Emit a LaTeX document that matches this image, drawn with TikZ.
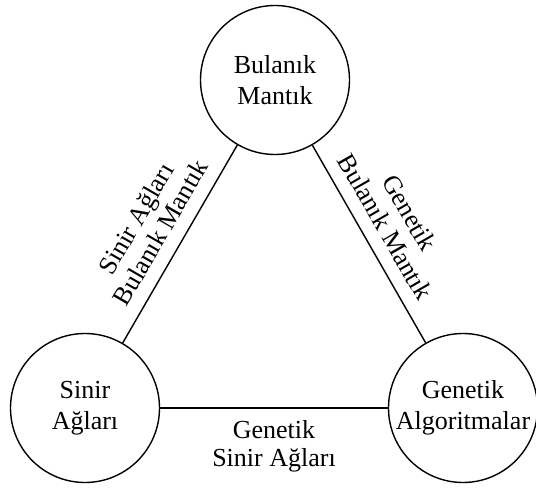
\documentclass[tikz,border=0pt]{standalone}
\usepackage{fontspec}
\setmainfont{Liberation Serif}
\begin{document}
\begin{tikzpicture}[x=1pt,y=1pt,
  topic/.style={circle, draw, line width=1.4pt, minimum size=149pt, inner sep=0pt,
    align=center, font=\fontsize{26}{31}\selectfont},
  link/.style={line width=1.4pt},
  linklabel/.style={align=center, font=\fontsize{26}{28}\selectfont, inner sep=3pt}]
  \useasboundingbox (0,0) rectangle (536,488);
  % three fields
  \node[topic] (fuzzy) at (275,408) {Bulanık\\Mantık};
  \node[topic] (neural) at (85,80) {Sinir\\Ağları};
  \node[topic] (genetic) at (463,80) {Genetik\\Algoritmalar};
  % hybrid approaches along the edges
  \draw[link] (neural) -- node[sloped, above=10pt, linklabel] {Sinir Ağları\\Bulanık Mantık} (fuzzy);
  \draw[link] (fuzzy) -- node[pos=0.47, sloped, above=10pt, linklabel] {Genetik\\Bulanık Mantık} (genetic);
  \draw[link] (neural) -- node[below=9pt, linklabel] {Genetik\\Sinir Ağları} (genetic);
\end{tikzpicture}
\end{document}
